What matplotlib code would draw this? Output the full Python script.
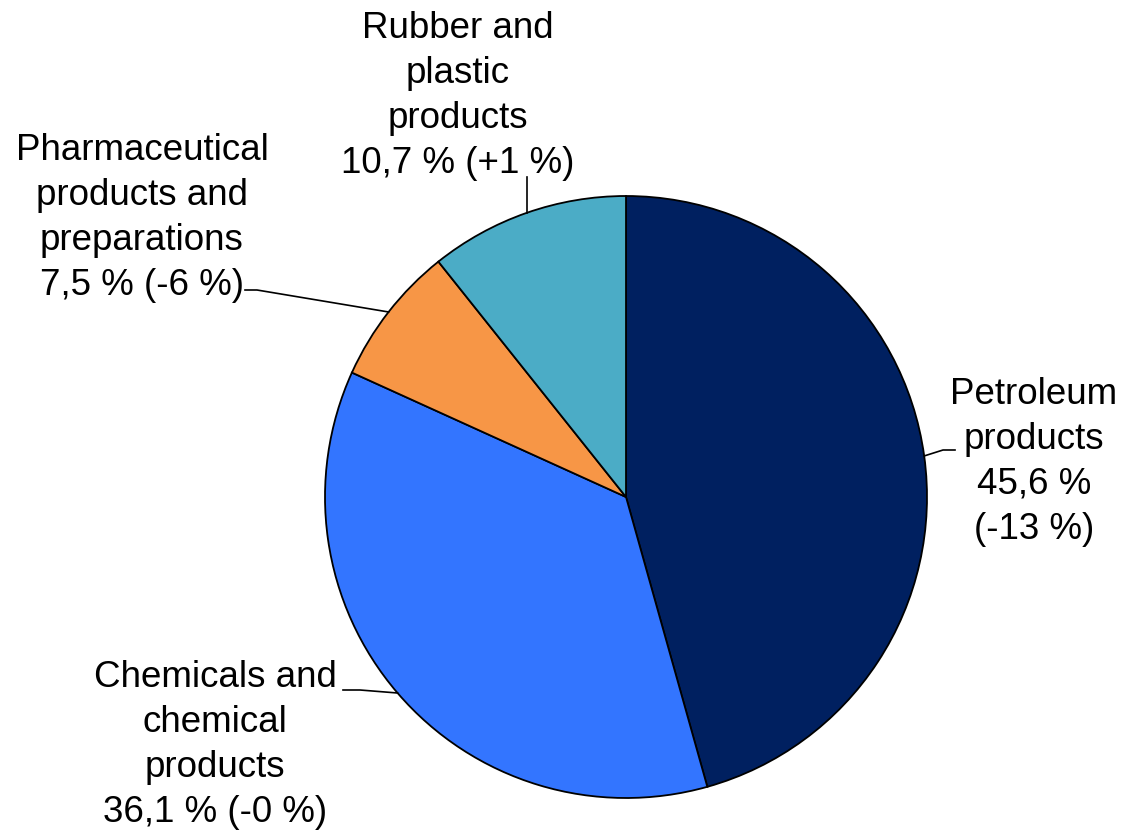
import matplotlib.pyplot as plt
import numpy as np

plt.rcParams['font.family'] = ['Liberation Sans', 'DejaVu Sans']

labels = ["Petroleum\nproducts\n45,6 %\n(-13 %)",
          "Chemicals and\nchemical\nproducts\n36,1 % (-0 %)",
          "Pharmaceutical\nproducts and\npreparations\n7,5 % (-6 %)",
          "Rubber and\nplastic\nproducts\n10,7 % (+1 %)"]
shares = [45.6, 36.1, 7.5, 10.7]
colors = ["#002060", "#3375FF", "#F79646", "#4BACC6"]

# pixel layout of the reference
W, H = 1125, 832
cx, cy, R = 626, 497, 301


def px(x, y):
    return (x - cx) / R, (cy - y) / R


fig = plt.figure(figsize=(W / 100, H / 100), dpi=100)
ax = fig.add_axes([0, 0, 1, 1])
wedges, _ = ax.pie(shares, colors=colors, startangle=90, counterclock=False,
                   radius=1, wedgeprops=dict(edgecolor="black", linewidth=1.3))
ax.set_xlim(-cx / R, (W - cx) / R)
ax.set_ylim(-(H - cy) / R, cy / R)
ax.set_aspect("auto")
ax.axis("off")

# label block centres and leader line points (pixels)
label_pos = [(1034, 462), (215, 745), (142, 218), (458, 96)]
leaders = [[(955, 450), (943, 450)],
           [(343, 690), (360, 690)],
           [(245, 290), (257, 290)],
           [(527, 177)]]

for w, lab, (lx, ly), pts in zip(wedges, labels, label_pos, leaders):
    mid = np.deg2rad((w.theta1 + w.theta2) / 2)
    edge = (np.cos(mid), np.sin(mid))
    xy = [px(*p) for p in pts]
    if len(xy) == 1:
        xy.append((xy[0][0], np.sqrt(1 - xy[0][0] ** 2)))
    else:
        xy.append(edge)
    ax.plot([p[0] for p in xy], [p[1] for p in xy], color="black", lw=1.2)
    tx, ty = px(lx, ly)
    ax.text(tx, ty, lab, ha="center", va="center", fontsize=26.5,
            linespacing=1.36, multialignment="center")

plt.savefig("out.png", dpi=100)
